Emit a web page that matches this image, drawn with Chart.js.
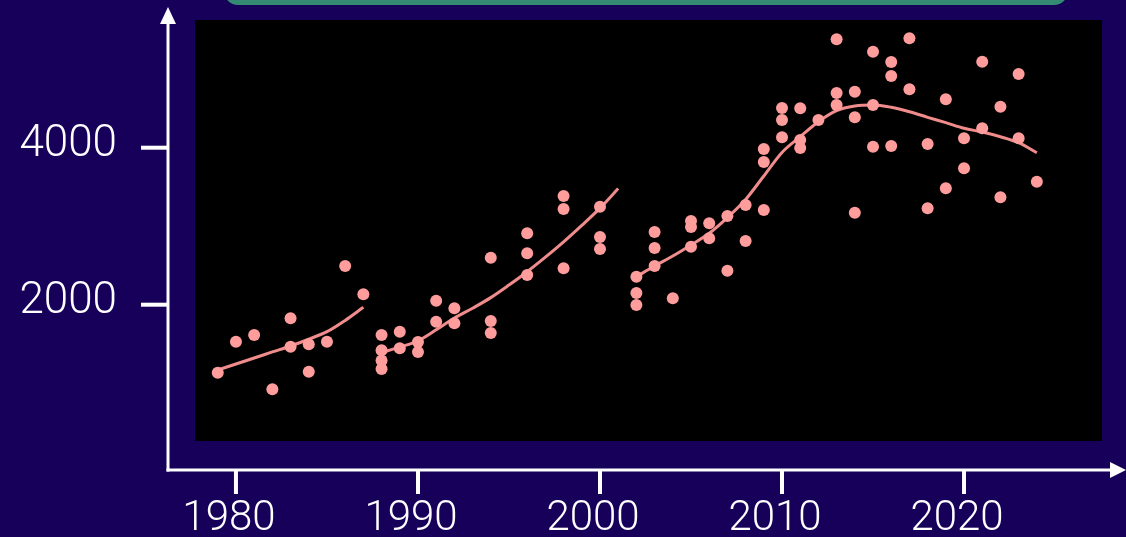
<!DOCTYPE html>
<html>
<head>
<meta charset="utf-8">
<script src="https://cdn.jsdelivr.net/npm/chart.js@4.4.1/dist/chart.umd.min.js"></script>
<style>
html,body{margin:0;padding:0;background:#16005a;overflow:hidden}
canvas{display:block}
</style>
</head>
<body>
<canvas id="c" width="1126" height="537"></canvas>
<script>
// ---- data ----
const xTickLabels = [1980, 1990, 2000, 2010, 2020];
const yTickLabels = [2000, 4000];

const pointYears = [
  1979, 1980, 1981, 1982, 1983, 1983, 1984, 1984, 1985, 1986, 1987,
  1988, 1988, 1988, 1988, 1989, 1989, 1990, 1990, 1991, 1991, 1992, 1992,
  1994, 1994, 1994, 1996, 1996, 1996, 1998, 1998, 1998, 2000, 2000, 2000,
  2002, 2002, 2002, 2003, 2003, 2003, 2004, 2005, 2005, 2005, 2006, 2006,
  2007, 2007, 2008, 2008, 2009, 2009, 2009, 2010, 2010, 2010, 2011, 2011, 2011,
  2012, 2013, 2013, 2013, 2014, 2014, 2014, 2015, 2015, 2015, 2016, 2016, 2016,
  2017, 2017, 2018, 2018, 2019, 2019, 2020, 2020, 2021, 2021, 2022, 2022,
  2023, 2023, 2024
];
const pointValues = [
  1134, 1529, 1614, 922, 1827, 1465, 1495, 1146, 1529, 2493, 2132,
  1614, 1420, 1290, 1180, 1656, 1445, 1525, 1397, 2051, 1783, 1954, 1763,
  2599, 1792, 1639, 2910, 2655, 2378, 3385, 3219, 2464, 3249, 2862, 2710,
  2357, 2149, 1996, 2926, 2722, 2493, 2082, 3066, 2990, 2739, 3037, 2846,
  3130, 2433, 3270, 2812, 3206, 3984, 3818, 4133, 4506, 4353, 4502, 4098, 3996,
  4353, 5381, 4697, 4544, 4714, 4387, 3172, 5223, 4544, 4013, 5092, 4914, 4022,
  5394, 4744, 4047, 3228, 4617, 3483, 4120, 3738, 5096, 4247, 4523, 3368,
  4939, 4120, 3567
];

// smoothed trend, three periods
const trend1Years  = [1979, 1980, 1981, 1982, 1983, 1984, 1985, 1986, 1987];
const trend1Values = [1168, 1245, 1321, 1398, 1474, 1560, 1656, 1800, 1967];

const trend2Years  = [1988, 1989, 1990, 1991, 1992, 1993, 1994, 1995, 1996, 1997, 1998, 1999, 2000, 2001];
const trend2Values = [1390, 1460, 1540, 1680, 1830, 1955, 2090, 2250, 2420, 2605, 2800, 3010, 3230, 3480];

const trend3Years  = [2002, 2003, 2004, 2005, 2006, 2007, 2008, 2009, 2010, 2011, 2012, 2013,
                      2014, 2015, 2016, 2017, 2018, 2019, 2020, 2021, 2022, 2023, 2024];
const trend3Values = [2357, 2493, 2620, 2761, 2910, 3110, 3340, 3640, 3940, 4140, 4331, 4472,
                      4531, 4544, 4515, 4459, 4387, 4319, 4247, 4200, 4140, 4064, 3936];

// ---- styles ----
const BG = '#16005a';
const POINT_COLOR = '#ff9c9c';
const LINE_COLOR = '#f08c8c';

const toXY = (xs, ys) => xs.map((x, i) => ({x: x, y: ys[i]}));

const trendDataset = (xs, ys) => ({
  type: 'line',
  data: toXY(xs, ys),
  borderColor: LINE_COLOR,
  borderWidth: 3,
  pointRadius: 0,
  cubicInterpolationMode: 'monotone',
  fill: false,
  order: 1
});

const zeroPad = s => { s.paddingTop = 0; s.paddingBottom = 0; s.paddingLeft = 0; s.paddingRight = 0; };

const decor = {
  id: 'decor',
  beforeDraw(chart) {
    const ctx = chart.ctx, a = chart.chartArea;
    ctx.save();
    ctx.fillStyle = BG;
    ctx.fillRect(0, 0, chart.width, chart.height);
    // title box remnant at top
    ctx.fillStyle = '#358a74';
    ctx.beginPath();
    ctx.roundRect(224, -40, 844, 45, 14);
    ctx.fill();
    // plot panel
    ctx.fillStyle = '#000000';
    ctx.fillRect(a.left, a.top, a.right - a.left, a.bottom - a.top);
    // axes
    const ax = 168, ay = 470;
    ctx.strokeStyle = '#ffffff';
    ctx.fillStyle = '#ffffff';
    ctx.lineWidth = 3;
    ctx.beginPath(); ctx.moveTo(ax, 20); ctx.lineTo(ax, ay + 1.5); ctx.stroke();
    ctx.beginPath(); ctx.moveTo(ax - 1.5, ay); ctx.lineTo(1112, ay); ctx.stroke();
    ctx.beginPath(); ctx.moveTo(ax, 7); ctx.lineTo(ax - 8, 24); ctx.lineTo(ax + 8, 24); ctx.closePath(); ctx.fill();
    ctx.beginPath(); ctx.moveTo(1126, ay); ctx.lineTo(1110, ay - 8); ctx.lineTo(1110, ay + 8); ctx.closePath(); ctx.fill();
    // tick marks
    ctx.lineWidth = 4;
    const ys = chart.scales.y, xs = chart.scales.x;
    ys.ticks.forEach(t => {
      const p = ys.getPixelForValue(t.value);
      ctx.beginPath(); ctx.moveTo(141, p); ctx.lineTo(ax, p); ctx.stroke();
    });
    xs.ticks.forEach(t => {
      const p = xs.getPixelForValue(t.value);
      ctx.beginPath(); ctx.moveTo(p, ay); ctx.lineTo(p, 494); ctx.stroke();
    });
    ctx.restore();
  }
};

new Chart(document.getElementById('c'), {
  type: 'scatter',
  data: {
    datasets: [
      {
        data: toXY(pointYears, pointValues),
        backgroundColor: POINT_COLOR,
        borderWidth: 0,
        pointRadius: 6,
        order: 0
      },
      trendDataset(trend1Years, trend1Values),
      trendDataset(trend2Years, trend2Values),
      trendDataset(trend3Years, trend3Values)
    ]
  },
  options: {
    responsive: false,
    animation: false,
    devicePixelRatio: 1,
    layout: {padding: {left: 0, top: 20, right: 24, bottom: 0}},
    plugins: {legend: {display: false}, tooltip: {enabled: false}},
    scales: {
      x: {
        type: 'linear',
        min: 1977.75,
        max: 2027.58,
        afterBuildTicks: s => { s.ticks = xTickLabels.map(v => ({value: v})); },
        afterFit: s => { s.height = 96; zeroPad(s); },
        grid: {display: false, drawTicks: true, tickLength: 53},
        border: {display: false},
        ticks: {
          color: '#ffffff',
          font: {family: 'Roboto', size: 42, weight: 300},
          padding: 0,
          labelOffset: -7,
          maxRotation: 0,
          autoSkip: false,
          callback: v => String(v)
        }
      },
      y: {
        type: 'linear',
        min: 263.5,
        max: 5627,
        afterBuildTicks: s => { s.ticks = yTickLabels.map(v => ({value: v})); },
        afterFit: s => { s.width = 195; zeroPad(s); },
        grid: {display: false, drawTicks: true, tickLength: 78},
        border: {display: false},
        ticks: {
          color: '#ffffff',
          font: {family: 'Roboto', size: 44, weight: 300},
          padding: 0,
          labelOffset: -3,
          callback: v => String(v)
        }
      }
    }
  },
  plugins: [decor]
});
</script>
</body>
</html>
